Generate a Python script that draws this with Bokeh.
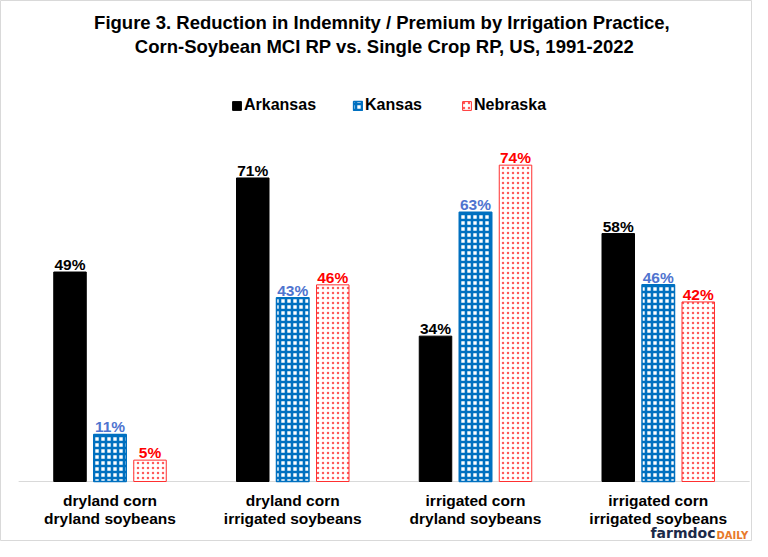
from bokeh.plotting import figure
from bokeh.models import Range1d, Label, Legend, LegendItem, ColumnDataSource
from bokeh.transform import dodge
from bokeh.core.properties import value
from bokeh.embed import file_html
from bokeh.resources import INLINE

# ---------------- data ----------------
cat_line1 = ["dryland corn", "dryland corn", "irrigated corn", "irrigated corn"]
cat_line2 = ["dryland soybeans", "irrigated soybeans", "dryland soybeans", "irrigated soybeans"]
series = ["Arkansas", "Kansas", "Nebraska"]
arkansas = [49, 71, 34, 58]
kansas = [11, 43, 63, 46]
nebraska = [5, 46, 74, 42]
title_lines = [
    "Figure 3.  Reduction in Indemnity / Premium by Irrigation Practice,",
    "Corn-Soybean MCI RP vs. Single Crop RP, US, 1991-2022",
]

# ---------------- layout constants ----------------
W, H = 752, 541
PX_CAT = 182.75      # pixels per category
PX_PCT = 4.275       # pixels per percent
X0 = 109.5           # px of first category centre from left
Y0 = 60              # px of zero line from bottom
OFF = 40 / PX_CAT
BW = 32.5 / PX_CAT
FONT = "Liberation Sans"

idx = list(range(len(cat_line1)))
src = ColumnDataSource(dict(
    idx=idx, line1=cat_line1, line2=cat_line2,
    arkansas=arkansas, kansas=kansas, nebraska=nebraska,
    ark_lbl=[f"{v}%" for v in arkansas],
    kan_lbl=[f"{v}%" for v in kansas],
    neb_lbl=[f"{v}%" for v in nebraska],
))

p = figure(width=W, height=H, output_backend="svg", toolbar_location=None,
           x_range=Range1d(-X0 / PX_CAT, (W - X0) / PX_CAT),
           y_range=Range1d(-Y0 / PX_PCT, (H - Y0) / PX_PCT),
           x_axis_location=None, y_axis_location=None, min_border=0)
p.xgrid.grid_line_color = None
p.ygrid.grid_line_color = None
p.outline_line_color = "#d9d9d9"
p.background_fill_color = "white"
p.border_fill_color = "white"

# baseline
p.segment(x0=-0.5, x1=len(idx) - 0.5, y0=0, y1=0, line_color="#d9d9d9", line_width=1)

r_ar = p.vbar(x=dodge("idx", -OFF, range=p.x_range), top="arkansas", width=BW, source=src,
              fill_color="black", line_color="black")
r_ks = p.vbar(x=dodge("idx", 0, range=p.x_range), top="kansas", width=BW, source=src,
              fill_color="white", line_color="#0070C0", line_width=1.5,
              hatch_pattern="cross", hatch_color="#0070C0", hatch_weight=2.6, hatch_scale=6)
r_nb = p.vbar(x=dodge("idx", OFF, range=p.x_range), top="nebraska", width=BW, source=src,
              fill_color="white", line_color="#ff3030", line_width=1,
              hatch_pattern="dot", hatch_color="#ff5a5a", hatch_scale=5)

lbl_kw = dict(source=src, text_align="center", text_baseline="alphabetic", y_offset=-7.5,
              text_font=value(FONT), text_font_style="bold", text_font_size="15.5px")
p.text(x=dodge("idx", -OFF, range=p.x_range), y="arkansas", text="ark_lbl", text_color="black", **lbl_kw)
p.text(x=dodge("idx", 0, range=p.x_range), y="kansas", text="kan_lbl", text_color="#4F74CF", **lbl_kw)
p.text(x=dodge("idx", OFF, range=p.x_range), y="nebraska", text="neb_lbl", text_color="#FF0000", **lbl_kw)

cat_kw = dict(source=src, text_align="center", text_baseline="middle", text_color="black",
              text_font=value(FONT), text_font_style="bold", text_font_size="15.5px")
p.text(x="idx", y=0, text="line1", y_offset=19, **cat_kw)
p.text(x="idx", y=0, text="line2", y_offset=36.5, **cat_kw)

# legends (location = bottom-left corner, screen px from bottom-left)
for r, name, fx in [(r_ar, series[0], 231), (r_ks, series[1], 352), (r_nb, series[2], 461)]:
    leg = Legend(items=[LegendItem(label=name, renderers=[r])], location=(fx, 427),
                 orientation="horizontal", glyph_width=11, glyph_height=11, label_standoff=2,
                 padding=0, margin=0, spacing=0, border_line_color=None, background_fill_alpha=0,
                 label_text_font=FONT, label_text_font_style="bold", label_text_font_size="16px",
                 label_text_color="black", label_height=11)
    p.add_layout(leg)

# title
for t, ys in zip(title_lines, [519, 495]):
    p.add_layout(Label(x=384, y=ys, x_units="screen", y_units="screen", text=t,
                       text_align="center", text_baseline="middle", text_font=FONT,
                       text_font_style="bold", text_font_size="18.5px", text_color="black"))

# logo
p.add_layout(Label(x=715, y=0.5, x_units="screen", y_units="screen", text="farmdoc",
                   text_align="right", text_baseline="bottom", text_font="DejaVu Sans",
                   text_font_style="bold", text_font_size="14px", text_color="#1C2A48"))
p.add_layout(Label(x=716, y=0.5, x_units="screen", y_units="screen", text="DAILY",
                   text_align="left", text_baseline="bottom", text_font="DejaVu Sans",
                   text_font_style="bold", text_font_size="10px", text_color="#E8792B"))

open("out.html", "w").write(file_html(p, INLINE))
